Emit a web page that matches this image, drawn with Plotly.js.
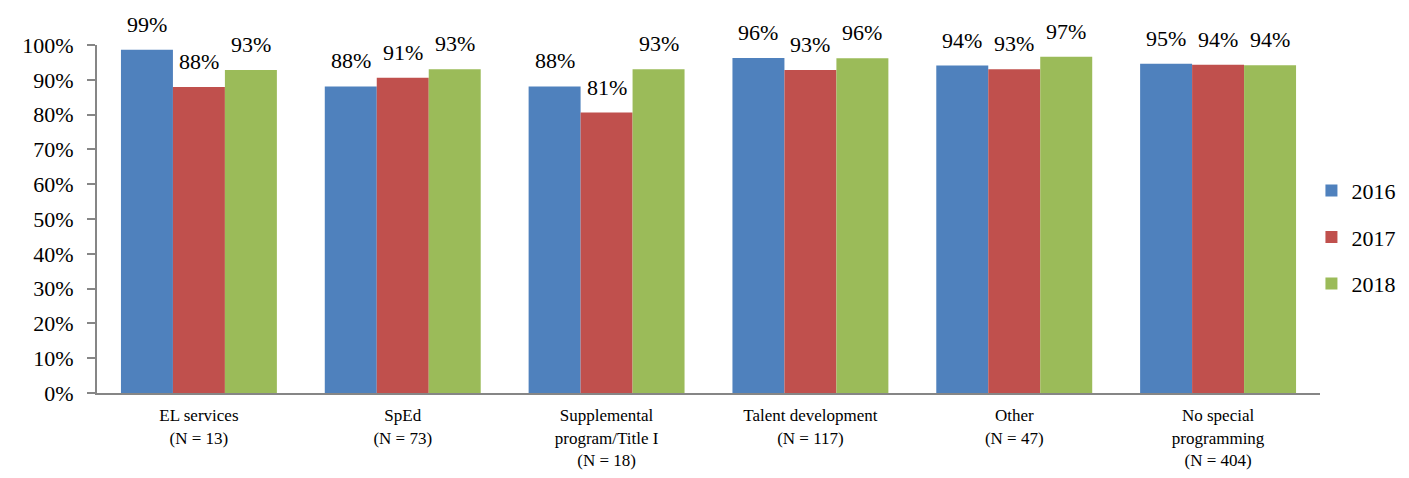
<!DOCTYPE html>
<html>
<head>
<meta charset="utf-8">
<script src="https://cdn.plot.ly/plotly-3.0.1.min.js"></script>
<style>html,body{margin:0;padding:0;background:#fff;}#chart{width:1409px;height:478px;}</style>
</head>
<body>
<div id="chart"></div>
<script>
const categories = [
  "EL services<br>(N = 13)",
  "SpEd<br>(N = 73)",
  "Supplemental<br>program/Title I<br>(N = 18)",
  "Talent development<br>(N = 117)",
  "Other<br>(N = 47)",
  "No special<br>programming<br>(N = 404)"
];
const seriesNames = ["2016", "2017", "2018"];
const values2016 = [98.6, 88.1, 88.1, 96.3, 94.1, 94.6];
const values2017 = [87.9, 90.6, 80.6, 92.8, 93.0, 94.3];
const values2018 = [92.8, 93.0, 93.0, 96.2, 96.6, 94.2];
const colors = ["#4F81BD", "#C0504D", "#9BBB59"];

const font = "Liberation Serif";
const allValues = [values2016, values2017, values2018];

const marginL = 97, marginR = 89, W = 1409;
const bargap = 0.235;
const plotW = W - marginL - marginR;
const barPx = plotW / categories.length * (1 - bargap) / allValues.length;

const traces = allValues.map((v, i) => ({
  type: "bar",
  name: seriesNames[i],
  x: categories,
  y: v,
  marker: {color: colors[i], line: {width: 0}},
  legendgroup: "g" + i,
  hoverinfo: "none"
}));

const annotations = [];
allValues.forEach((v, i) => {
  v.forEach((val, j) => {
    annotations.push({
      x: categories[j], y: val, xref: "x", yref: "y",
      text: Math.round(val) + "%",
      showarrow: false,
      xshift: (i - (allValues.length - 1) / 2) * barPx,
      yanchor: "bottom", yshift: 11,
      font: {family: font, size: 22, color: "#000"}
    });
  });
});

const layout = {
  width: W, height: 478,
  margin: {l: marginL, r: marginR, t: 45, b: 85, autoexpand: false},
  paper_bgcolor: "#fff", plot_bgcolor: "#fff",
  barmode: "group",
  bargap: bargap,
  bargroupgap: 0,
  font: {family: font, color: "#000"},
  showlegend: true,
  annotations: annotations,
  legend: {
    x: 0.993, xanchor: "left", y: 0.448, yanchor: "middle",
    font: {family: font, size: 22, color: "#000"},
    traceorder: "grouped", tracegroupgap: 15,
    itemwidth: 30
  },
  xaxis: {
    showline: true, linecolor: "#868686", linewidth: 2,
    ticks: "", showgrid: false,
    ticklabelstandoff: 6,
    tickfont: {family: font, size: 17, color: "#000"},
    fixedrange: true
  },
  yaxis: {
    range: [0, 100], dtick: 10, ticksuffix: "%",
    showline: true, linecolor: "#868686", linewidth: 2,
    ticks: "outside", ticklen: 8, tickcolor: "#868686", tickwidth: 2,
    ticklabelstandoff: 9,
    showgrid: false, zeroline: false,
    tickfont: {family: font, size: 22, color: "#000"},
    fixedrange: true
  }
};
Plotly.newPlot("chart", traces, layout, {staticPlot: true});
</script>
</body>
</html>
